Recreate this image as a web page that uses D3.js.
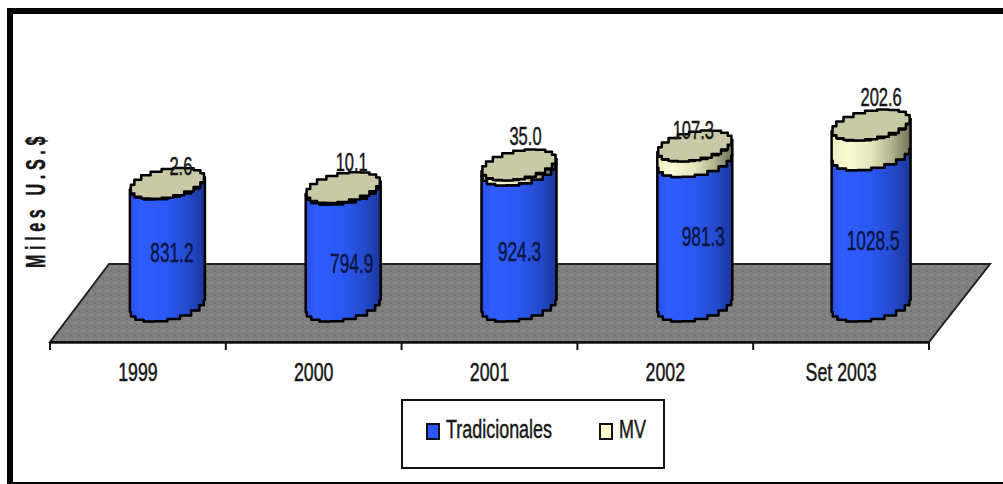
<!DOCTYPE html>
<html>
<head>
<meta charset="utf-8">
<script src="https://cdn.jsdelivr.net/npm/d3@7"></script>
<style>
html,body{margin:0;padding:0;background:#fff;overflow:hidden}
svg{display:block}
text{font-family:"Liberation Sans",Arial,sans-serif;fill:#161616;stroke:#161616;stroke-width:.45px}
</style>
</head>
<body>
<svg id="chart" width="1003" height="484"></svg>
<script>
// Yearly totals by instrument type, thousands of US dollars
const categories = ["1999", "2000", "2001", "2002", "Set 2003"];
const tradicionales = [831.2, 794.9, 924.3, 981.3, 1028.5];
const mv = [2.6, 10.1, 35.0, 107.3, 202.6];
const seriesNames = ["Tradicionales", "MV"];
const axisTitle = "Miles U.S.$";

const svg = d3.select("#chart");
const defs = svg.append("defs");

function gradient(id, stops) {
  const g = defs.append("linearGradient").attr("id", id);
  stops.forEach(([o, c]) => g.append("stop").attr("offset", o).attr("stop-color", c));
}
gradient("blueSide", [[0, "#2a50e6"], [0.14, "#2f5dff"], [0.5, "#2b57f2"], [0.8, "#2349c8"], [1, "#1b359a"]]);
gradient("creamSide", [[0, "#ececc4"], [0.2, "#fbfbd4"], [0.5, "#e4e4bd"], [0.75, "#b5b58f"], [1, "#6f6f58"]]);

const floorDots = defs.append("pattern").attr("id", "floorDots")
  .attr("patternUnits", "userSpaceOnUse").attr("width", 8).attr("height", 8);
floorDots.append("rect").attr("width", 8).attr("height", 8).attr("fill", "#7f7f7f");
floorDots.append("rect").attr("x", 2).attr("y", 2).attr("width", 2).attr("height", 2).attr("fill", "#8f8f8f");
floorDots.append("rect").attr("x", 6).attr("y", 6).attr("width", 2).attr("height", 2).attr("fill", "#747474");

// Heavy frame: top and left rules are thick, the bottom one is thin
svg.append("rect").attr("x", 7).attr("y", 8).attr("width", 996).attr("height", 6).attr("fill", "#000");
svg.append("rect").attr("x", 7).attr("y", 8).attr("width", 6).attr("height", 476).attr("fill", "#000");
svg.append("rect").attr("x", 7).attr("y", 482).attr("width", 996).attr("height", 2).attr("fill", "#000");

const x = d3.scaleBand().domain(categories).range([50, 929]);
const totals = categories.map((_, i) => tradicionales[i] + mv[i]);
const y = d3.scaleLinear().domain([0, d3.max(totals)]).range([306, 125]);
const depthShift = 30;       // columns stand halfway back on the floor
const floorBack = { y: 264, dx: 59 };
const floorFront = 342;

svg.append("path")
  .attr("d", d3.line()([
    [x.range()[0], floorFront],
    [x.range()[0] + floorBack.dx, floorBack.y],
    [x.range()[1] + floorBack.dx + 2, floorBack.y],
    [x.range()[1], floorFront]
  ]) + "Z")
  .attr("fill", "url(#floorDots)")
  .attr("stroke", "#222")
  .attr("stroke-width", 2);

// Category axis: labels at band centres, ticks at band edges
const axis = svg.append("g").attr("transform", `translate(0,${floorFront})`);
axis.call(d3.axisBottom(x).tickSize(0).tickPadding(21))
  .call(g => g.select(".domain").attr("stroke", "#111").attr("stroke-width", 2.5));
const edges = categories.map(c => x(c)).concat(x.range()[1]);
axis.selectAll("line.edge").data(edges).join("line")
  .attr("class", "edge")
  .attr("x1", d => d).attr("x2", d => d)
  .attr("y1", 0).attr("y2", 8)
  .attr("stroke", "#111").attr("stroke-width", 2);
axis.selectAll(".tick text").attr("font-size", 25)
  .style("font-family", '"Liberation Sans",Arial,sans-serif').attr("fill", "#161616");

// Squeezes a text to a share of its natural width
function squeeze(sel, share) {
  sel.each(function () {
    const w = this.getComputedTextLength();
    d3.select(this).attr("textLength", w * share).attr("lengthAdjust", "spacingAndGlyphs");
  });
}
squeeze(axis.selectAll(".tick text"), 0.71);

// Tilted cap outline, drawn with the stepped edge of a low resolution plot
const stepped = d3.line().curve(d3.curveStep);
const ry = 14.3, tilt = 6;
function rim(cx, cy, rx, a0, a1, n) {
  return d3.range(n + 1).map(k => {
    const t = a0 + (a1 - a0) * k / n;
    return [cx + rx * Math.cos(t), cy + ry * Math.sin(t) - tilt * Math.cos(t)];
  });
}
function side(cx, rx, v0, v1) {
  const lower = rim(cx, y(v0), rx, Math.PI, 0, 9);
  const upper = rim(cx, y(v1), rx, 0, Math.PI, 9);
  return stepped(lower) + "L" + stepped(upper).slice(1) + "Z";
}

const columns = svg.selectAll("g.column").data(categories).join("g").attr("class", "column");
columns.each(function (c, i) {
  const g = d3.select(this);
  const rx = c === "Set 2003" ? 39.5 : 37.5;
  const cx = x(c) + x.bandwidth() / 2 + depthShift - (c === "Set 2003" ? 0 : 0.5);
  g.append("path").attr("d", side(cx, rx, 0, tradicionales[i]))
    .attr("fill", "url(#blueSide)").attr("stroke", "#000").attr("stroke-width", 2.5).attr("stroke-linejoin", "round");
  g.append("path").attr("d", side(cx, rx, tradicionales[i], totals[i]))
    .attr("fill", "url(#creamSide)").attr("stroke", "#000").attr("stroke-width", 2.5).attr("stroke-linejoin", "round");
  g.append("path").attr("d", stepped(rim(cx, y(totals[i]), rx, 0, 2 * Math.PI, 20)) + "Z")
    .attr("fill", "#c9c9a6").attr("stroke", "#000").attr("stroke-width", 2.5).attr("stroke-linejoin", "round");
});

// Value labels sit at hand-tuned spots relative to each column's segment
const blueNudge = [[4, 8], [8, 16], [0, 14], [8, 3], [2, 11]];
const creamNudge = [[13, -17], [8, -26], [6, -29], [-2, -16], [10, -28]];
const labelInk = "#0c1440";
svg.selectAll("text.blueValue").data(tradicionales).join("text")
  .attr("class", "blueValue")
  .attr("x", (d, i) => x(categories[i]) + x.bandwidth() / 2 + depthShift + blueNudge[i][0])
  .attr("y", (d, i) => y(d / 2) + blueNudge[i][1])
  .attr("text-anchor", "middle").attr("dominant-baseline", "central")
  .attr("font-size", 27).style("fill", labelInk).style("stroke", labelInk)
  .text(d => d.toFixed(1))
  .call(squeeze, 0.64);
svg.selectAll("text.creamValue").data(mv).join("text")
  .attr("class", "creamValue")
  .attr("x", (d, i) => x(categories[i]) + x.bandwidth() / 2 + depthShift + creamNudge[i][0])
  .attr("y", (d, i) => y(totals[i]) + creamNudge[i][1])
  .attr("text-anchor", "middle").attr("dominant-baseline", "central")
  .attr("font-size", 25)
  .text(d => d.toFixed(1))
  .call(squeeze, 0.66);

// Rotated axis title, bold and loosely spaced
svg.append("text")
  .attr("transform", "translate(45,268) rotate(-90)")
  .attr("font-size", 28).attr("font-weight", "bold").attr("letter-spacing", 8)
  .attr("textLength", 136).attr("lengthAdjust", "spacingAndGlyphs")
  .text(axisTitle);

// Legend
const legend = svg.append("g");
legend.append("rect").attr("x", 402).attr("y", 400).attr("width", 262).attr("height", 68)
  .attr("fill", "#fff").attr("stroke", "#111").attr("stroke-width", 2);
const legendX = d3.scaleOrdinal().domain(seriesNames).range([427, 600]);
const legendFill = d3.scaleOrdinal().domain(seriesNames).range(["#2a55ff", "#ffffcc"]);
legend.selectAll("rect.key").data(seriesNames).join("rect")
  .attr("class", "key")
  .attr("x", d => legendX(d)).attr("y", 424)
  .attr("width", 12).attr("height", 15)
  .attr("fill", d => legendFill(d)).attr("stroke", "#111").attr("stroke-width", 2);
legend.selectAll("text.name").data(seriesNames).join("text")
  .attr("class", "name")
  .attr("x", d => legendX(d) + 19).attr("y", 429)
  .attr("dominant-baseline", "central")
  .attr("font-size", 26)
  .text(d => d)
  .call(squeeze, 0.69);
</script>
</body>
</html>
